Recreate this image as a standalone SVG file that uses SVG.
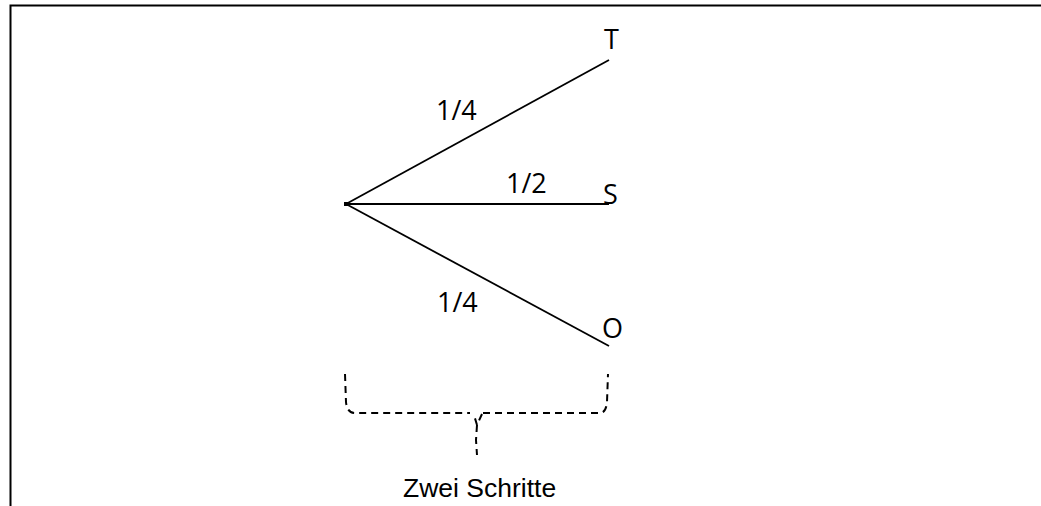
<svg xmlns="http://www.w3.org/2000/svg" width="1041" height="506" viewBox="0 0 1041 506">
<style>
.ln{stroke:#000;stroke-width:1.8;fill:none}
.lbl{font-family:"Open Sans",sans-serif;font-size:27px;fill:#000}
.dash{stroke:#000;stroke-width:2;fill:none;stroke-dasharray:7,5}
.cap{font-family:"Liberation Sans",Arial,sans-serif;font-size:26.5px;fill:#000}
</style>
<rect width="1041" height="506" fill="#fff"/>
<path d="M10.5,506 V5.5 H1041" stroke="#000" stroke-width="2" fill="none"/>
<g id="connectors">
<line class="ln" x1="346" y1="204" x2="609" y2="60"/>
<line class="ln" x1="346" y1="204" x2="609" y2="204"/>
<line class="ln" x1="346" y1="204" x2="609" y2="346"/>
</g>
<g id="root"><rect x="344" y="202" width="4" height="4" fill="#000"/></g>
<g id="T"><text class="lbl" x="604" y="49">T</text></g>
<g id="S"><text class="lbl" x="603" y="204">S</text></g>
<g id="O"><text class="lbl" x="602" y="338">O</text></g>
<g id="labels">
<text class="lbl" x="436" y="120">1/4</text>
<text class="lbl" x="506" y="193">1/2</text>
<text class="lbl" x="437" y="312">1/4</text>
</g>
<g id="brace">
<path class="dash" d="M345,374 L346,402 Q347,413 355,413 L470,413 M483,413 L600,413 Q606,413 607,402 L608,374"/>
<path class="dash" d="M482,414 L477,425 L474,415 M477,425 L476,440 L477,455"/>
</g>
<g id="caption"><text class="cap" x="403" y="497">Zwei Schritte</text></g>
</svg>
